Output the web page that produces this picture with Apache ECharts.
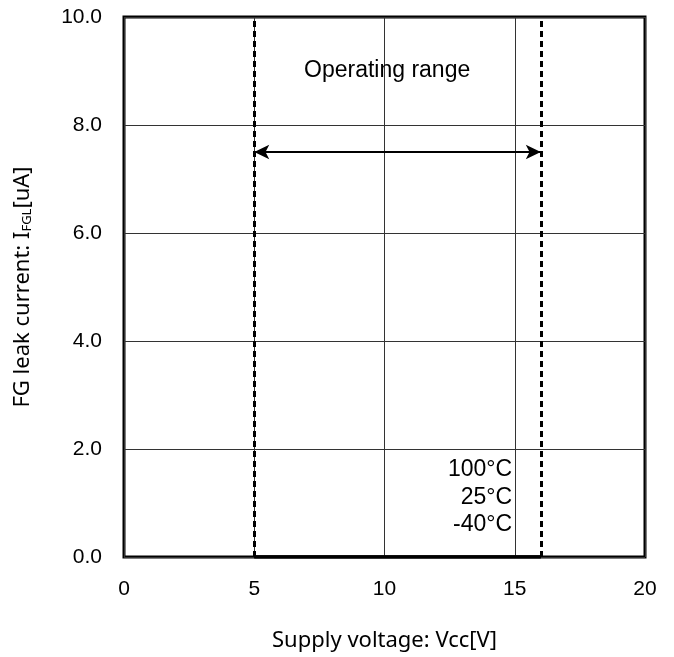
<!DOCTYPE html>
<html><head><meta charset="utf-8">
<script src="https://cdn.jsdelivr.net/npm/echarts@6/dist/echarts.min.js"></script>
<style>html,body{margin:0;padding:0;background:#fff}#c{width:674px;height:657px}</style>
</head><body><div id="c"></div>
<script>
const xTicks = [0, 5, 10, 15, 20];
const yTicks = [0, 2, 4, 6, 8, 10];
const vcc = [5, 16];
const leak100 = [0, 0];
const leak25 = [0, 0];
const leakM40 = [0, 0];
const seriesNames = ['100°C', '25°C', '-40°C'];
const labelPos = [[14.9, 1.61], [14.9, 1.09], [14.9, 0.59]];
const rangeLimits = [5, 16];
const arrowY = 7.5;
const rangeText = 'Operating range';
const rangeTextPos = [10.1, 9.0];

const chart = echarts.init(document.getElementById('c'), null, {renderer: 'canvas'});
const lineSeries = [leak100, leak25, leakM40].map((vals, i) => ({
  name: seriesNames[i], type: 'line', showSymbol: false, z: 5,
  data: vcc.map((v, j) => [v, vals[j]]),
  lineStyle: {color: '#000', width: 3}
}));
chart.setOption({
  animation: false,
  grid: {left: 124, right: 29, top: 17, bottom: 100, containLabel: false, outerBoundsMode: 'none',
         show: true, borderColor: '#000', borderWidth: 3, backgroundColor: 'transparent'},
  xAxis: {
    type: 'value', min: 0, max: 20, interval: 5,
    axisLine: {show: false}, axisTick: {show: false},
    splitLine: {lineStyle: {color: '#333', width: 1}},
    axisLabel: {color: '#000', fontSize: 21, fontFamily: 'Liberation Sans', margin: 22},
    name: 'Supply voltage: Vcc[V]', nameLocation: 'middle', nameGap: 73,
    nameTextStyle: {color: '#000', fontSize: 22, fontFamily: 'Noto Sans'}
  },
  yAxis: {
    type: 'value', min: 0, max: 10, interval: 2,
    axisLine: {show: false}, axisTick: {show: false},
    splitLine: {lineStyle: {color: '#333', width: 1}},
    axisLabel: {color: '#000', fontSize: 21, fontFamily: 'Liberation Sans', margin: 22, formatter: v => v.toFixed(1)},
    name: '{a|FG leak current: I}{s|FGL}{a|[uA]}', nameLocation: 'middle', nameGap: 90,
    nameTextStyle: {rich: {
      a: {color: '#000', fontSize: 22, fontFamily: 'Noto Sans'},
      s: {color: '#000', fontSize: 13, fontFamily: 'Noto Sans', verticalAlign: 'bottom', padding: [10, 0, 0, 0]}
    }}
  },
  series: lineSeries.concat([
    {
      type: 'line', data: [], z: 4,
      markLine: {
        silent: true, symbol: 'none', label: {show: false},
        lineStyle: {color: '#000', width: 3, type: [6, 4]},
        data: rangeLimits.map(x => ({xAxis: x}))
      }
    },
    {
      type: 'line', data: [], z: 6,
      markLine: {
        silent: true, symbol: ['arrow', 'arrow'], symbolSize: [11, 15], label: {show: false},
        lineStyle: {color: '#000', width: 2, type: 'solid'},
        data: [[{coord: [rangeLimits[0], arrowY]}, {coord: [rangeLimits[1], arrowY]}]]
      }
    },
    {
      type: 'scatter', symbolSize: 0, z: 7, itemStyle: {opacity: 1, color: '#000'},
      data: [{value: rangeTextPos, label: {formatter: rangeText}}].concat(
        seriesNames.map((n, i) => ({value: labelPos[i], label: {formatter: n, align: 'right'}}))),
      label: {show: true, position: 'inside', color: '#000', fontSize: 23, fontFamily: 'Liberation Sans'}
    }
  ])
});
</script></body></html>
